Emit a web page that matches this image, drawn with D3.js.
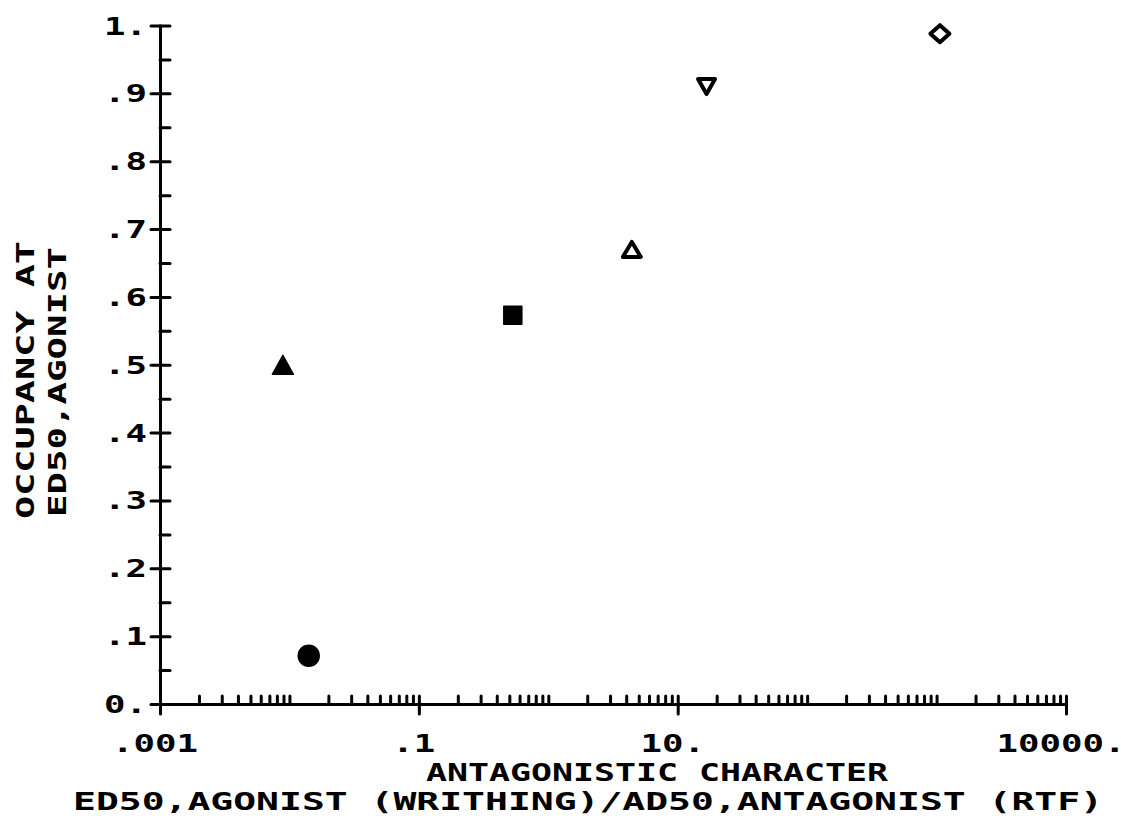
<!DOCTYPE html>
<html>
<head>
<meta charset="utf-8">
<script src="https://cdn.jsdelivr.net/npm/d3@7"></script>
<style>
  html, body { margin: 0; padding: 0; background: #fff; }
  svg { display: block; }
  text { font-family: "DejaVu Sans Mono", monospace; font-weight: bold; fill: #000; }
</style>
</head>
<body>
<svg id="chart" width="1121" height="840"></svg>
<script>
// ---- data ----
const markers = ["triangleFilled", "circleFilled", "squareFilled", "triangleOpen", "triangleDownOpen", "diamondOpen"];
const xValues = [0.0089, 0.0141, 0.532, 4.42, 16.7, 1061];
const yValues = [0.500, 0.071, 0.573, 0.670, 0.910, 0.988];

const xLabelValues = [0.001, 0.1, 10, 10000];
const xTickLabels = [".001", ".1", "10.", "10000."];
const yMajorValues = [0, 0.1, 0.2, 0.3, 0.4, 0.5, 0.6, 0.7, 0.8, 0.9, 1.0];
const yTickLabels = ["0.", ".1", ".2", ".3", ".4", ".5", ".6", ".7", ".8", ".9", "1."];
const yMinorValues = [0.05, 0.15, 0.25, 0.35, 0.45, 0.55, 0.65, 0.75, 0.85, 0.95];

const xTitle1 = "ANTAGONISTIC CHARACTER";
const xTitle2 = "ED50,AGONIST (WRITHING)/AD50,ANTAGONIST (RTF)";
const yTitle1 = "OCCUPANCY AT";
const yTitle2 = "ED50,AGONIST";

// ---- layout ----
const svg = d3.select("#chart");
const FS = 25;
const x = d3.scaleLog().domain([0.001, 10000]).range([160, 1066]);
const y = d3.scaleLinear().domain([0, 1]).range([704, 25.5]);
const X0 = x(0.001), Y0 = y(0);

function styleAxis(g) {
  g.selectAll("path.domain").attr("stroke", "#000").attr("stroke-width", 3).attr("stroke-linecap", "round");
  g.selectAll(".tick line").attr("stroke", "#000").attr("stroke-width", 3).attr("stroke-linecap", "round");
  g.selectAll(".tick text").remove();
}

// x axis: minor ticks upward
svg.append("g").attr("transform", `translate(0,${Y0})`)
  .call(d3.axisBottom(x).tickValues(x.ticks()).tickSizeInner(-8).tickSizeOuter(0).tickFormat(""))
  .call(styleAxis);
// labelled decades extend downward
svg.append("g").attr("transform", `translate(0,${Y0})`)
  .call(d3.axisBottom(x).tickValues(xLabelValues).tickSizeInner(10).tickSizeOuter(0).tickFormat(""))
  .call(styleAxis)
  .call(g => g.select("path.domain").remove());

// y axis
svg.append("g").attr("transform", `translate(${X0},0)`)
  .call(d3.axisRight(y).tickValues(yMajorValues.concat(yMinorValues)).tickSizeInner(10).tickSizeOuter(0).tickFormat(""))
  .call(styleAxis);
svg.append("g").attr("transform", `translate(${X0},0)`)
  .call(d3.axisLeft(y).tickValues(yMajorValues).tickSizeInner(9).tickSizeOuter(0).tickFormat(""))
  .call(styleAxis)
  .call(g => g.select("path.domain").remove());

// tick labels
const CELL = 21.5;
svg.append("g").selectAll("text").data(xLabelValues).join("text")
  .attr("x", d => x(d) - 5)
  .attr("y", 752)
  .attr("text-anchor", "middle")
  .attr("font-size", FS)
  .attr("textLength", (d, i) => xTickLabels[i].length * CELL)
  .attr("lengthAdjust", "spacingAndGlyphs")
  .text((d, i) => xTickLabels[i]);

svg.append("g").selectAll("text").data(yMajorValues).join("text")
  .attr("x", 147)
  .attr("y", d => y(d) + 9)
  .attr("text-anchor", "end")
  .attr("font-size", FS)
  .attr("textLength", (d, i) => yTickLabels[i].length * CELL)
  .attr("lengthAdjust", "spacingAndGlyphs")
  .text((d, i) => yTickLabels[i]);

// axis titles
svg.append("text").attr("x", 426).attr("y", 781).attr("font-size", FS)
  .attr("textLength", 462).attr("lengthAdjust", "spacingAndGlyphs").text(xTitle1);
svg.append("text").attr("x", 73).attr("y", 810).attr("font-size", FS)
  .attr("textLength", 1030).attr("lengthAdjust", "spacingAndGlyphs").text(xTitle2);

svg.append("text").attr("transform", "translate(34,380) rotate(-90)")
  .attr("text-anchor", "middle").attr("font-size", FS)
  .attr("textLength", 278).attr("lengthAdjust", "spacingAndGlyphs").text(yTitle1);
svg.append("text").attr("transform", "translate(66,382) rotate(-90)")
  .attr("text-anchor", "middle").attr("font-size", FS)
  .attr("textLength", 270).attr("lengthAdjust", "spacingAndGlyphs").text(yTitle2);

// ---- markers (shapes centred on their bounding box) ----
function shapePath(type) {
  switch (type) {
    case "triangleFilled": return "M0,-9.5L10.5,9.5L-10.5,9.5Z";
    case "triangleOpen": return "M0,-7.5L9,7.5L-9,7.5Z";
    case "triangleDownOpen": return "M-8.5,-7.5L8.5,-7.5L0,7.5Z";
    case "diamondOpen": return "M0,-8.5L9.5,0L0,8.5L-9.5,0Z";
    case "squareFilled": return "M-9,-9H9V9H-9Z";
    case "circleFilled": return d3.symbol(d3.symbolCircle, Math.PI * 10.5 * 10.5)();
  }
}
const pts = xValues.map((v, i) => ({ x: v, y: yValues[i], m: markers[i] }));
svg.append("g").selectAll("path").data(pts).join("path")
  .attr("transform", d => `translate(${x(d.x)},${y(d.y)})`)
  .attr("d", d => shapePath(d.m))
  .attr("fill", d => d.m.endsWith("Filled") ? "#000" : "none")
  .attr("stroke", "#000")
  .attr("stroke-width", d => d.m.endsWith("Filled") ? 1.5 : 4)
  .attr("stroke-linejoin", "round");
</script>
</body>
</html>
